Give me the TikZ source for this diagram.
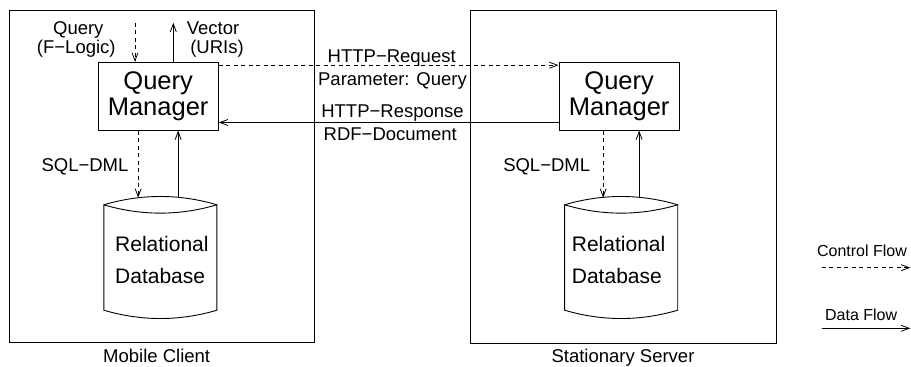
\documentclass[tikz,border=0pt]{standalone}
\usepackage{fontspec}
\setmainfont{Liberation Sans}
\usetikzlibrary{arrows.meta,calc}
\newcommand{\lblfont}{\fontsize{18.5}{20}\selectfont}
\newcommand{\dbfont}{\fontsize{21}{33}\selectfont}
\newcommand{\qmfont}{\fontsize{25.5}{26}\selectfont}
\newcommand{\lgfont}{\fontsize{16}{18}\selectfont}
\begin{document}
\begin{tikzpicture}[x=1pt,y=-1pt,
  outer/.style={draw,line width=1pt},
  qm/.style={draw,line width=1pt,minimum width=120.3pt,minimum height=67.7pt,inner sep=0pt,align=center,font=\qmfont},
  lbl/.style={inner sep=0pt,anchor=base,font=\lblfont},
  lg/.style={inner sep=0pt,anchor=base,font=\lgfont},
  dbt/.style={inner sep=0pt,anchor=base west,font=\dbfont},
  dbbox/.style={draw=none,minimum width=112.7pt,minimum height=121.6pt,inner sep=0pt},
  dbline/.style={line width=0.9pt},
  tip/.style={-{Straight Barb[length=8pt,width=6pt]}},
  ctrl/.style={tip,line width=0.8pt,dash pattern=on 4pt off 3.5pt},
  data/.style={tip,line width=0.8pt}]
\useasboundingbox (0,0) rectangle (911,367);

% outer boxes
\node[outer,minimum width=304.5pt,minimum height=332.7pt,inner sep=0pt] (client) at (161.75,176.35) {};
\node[outer,minimum width=305.3pt,minimum height=333.3pt,inner sep=0pt] (server) at (623.35,176.65) {};
\node[lbl] (clientlbl) at (156.7,362.7) {Mobile Client};
\node[lbl] (serverlbl) at (623,362.7) {Stationary Server};

% query managers
\node[qm] (qm1) at (158.15,96.15) {Query\\Manager};
\node[qm] (qm2) at (619.15,96.15) {Query\\Manager};

% databases
\node[dbbox] (db1) at (160.35,257.5) {};
\node[dbbox] (db2) at (621.15,257.5) {};
\foreach \d in {db1,db2}{
  \draw[dbline] ($(\d.north west)+(0,8.3)$) .. controls ($(\d.north west)+(37.6,-2.8)$) and ($(\d.north east)+(-37.6,-2.8)$) .. ($(\d.north east)+(0,8.3)$)
    -- ($(\d.south east)+(0,-8.3)$)
    .. controls ($(\d.south east)+(-37.6,2.8)$) and ($(\d.south west)+(37.6,2.8)$) .. ($(\d.south west)+(0,-8.3)$) -- cycle;
  \draw[dbline] ($(\d.north west)+(0,8.3)$) .. controls ($(\d.north west)+(37.6,19.4)$) and ($(\d.north east)+(-37.6,19.4)$) .. ($(\d.north east)+(0,8.3)$);
}
\node[dbt] (rel1) at (115,251) {Relational};
\node[dbt] (dat1) at (115,283.5) {Database};
\node[dbt] (rel2) at (571.7,251) {Relational};
\node[dbt] (dat2) at (571.7,283.5) {Database};

% query in / vector out
\coordinate (qin) at (135,22.7);
\coordinate (vout) at (173.3,22.7);
\draw[ctrl] (qin) -- (qin |- qm1.north);
\draw[data] (vout |- qm1.north) -- (vout);
\node[lbl] (q1) at (78.3,34) {Query};
\node[lbl] (q2) at (76.3,53) {(F−Logic)};
\node[lbl] (v1) at (213,34) {Vector};
\node[lbl] (v2) at (217,53) {(URIs)};

% client qm <-> db
\draw[ctrl] ([xshift=-20pt]qm1.south) -- ([xshift=-20pt,yshift=-1.3pt]qm1.south |- db1.north);
\draw[data] ([xshift=20pt,yshift=-1.3pt]qm1.south |- db1.north) -- ([xshift=20pt]qm1.south);
\node[lbl] (sql1) at (85,171.5) {SQL−DML};

% server qm <-> db
\draw[ctrl] ([xshift=-16pt]qm2.south) -- ([xshift=-16pt,yshift=-1.3pt]qm2.south |- db2.north);
\draw[data] ([xshift=20pt,yshift=-1.3pt]qm2.south |- db2.north) -- ([xshift=20pt]qm2.south);
\node[lbl] (sql2) at (546.7,171.5) {SQL−DML};

% http
\draw[ctrl] ([yshift=-3.4pt]qm1.north east) -- ([yshift=-3.4pt]qm1.north east -| qm2.west);
\draw[data] ([yshift=8pt]qm2.south west) -- ([yshift=8pt]qm2.south west -| qm1.east);
\node[lbl] (req) at (391.7,62.5) {HTTP−Request};
\node[lbl] (par) at (392.5,85) {Parameter: Query};
\node[lbl] (resp) at (392.5,117.3) {HTTP−Response};
\node[lbl] (rdf) at (390.3,140) {RDF−Document};

% legend
\coordinate (c1) at (821.7,267.7);
\coordinate (c2) at (910.3,267.7);
\coordinate (d1) at (821.7,328.3);
\coordinate (d2) at (910.3,328.3);
\draw[ctrl] (c1) -- (c2);
\draw[data] (d1) -- (d2);
\node[lg] (cf) at (862,256.5) {Control Flow};
\node[lg] (df) at (861.2,320.5) {Data Flow};
\end{tikzpicture}
\end{document}
